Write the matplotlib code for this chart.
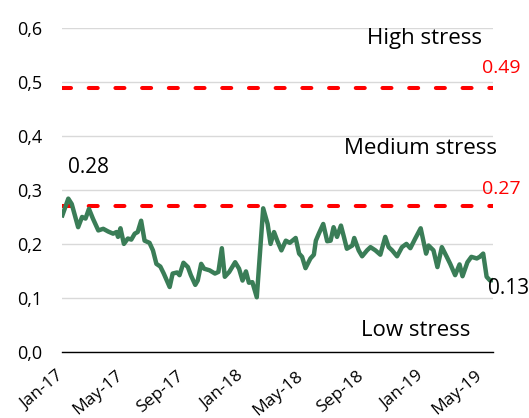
#!/usr/bin/env python3
# stress index chart, weekly values Jan-17 .. May-19

import numpy as np
import matplotlib
matplotlib.use('Agg')
import matplotlib.pyplot as plt
import matplotlib.dates as mdates

# dates and index values
dates = [
    '2017-01-02', '2017-01-14', '2017-01-21', '2017-02-03', '2017-02-11', '2017-02-18',
    '2017-02-25', '2017-03-05', '2017-03-16', '2017-03-26', '2017-04-05', '2017-04-15',
    '2017-04-22', '2017-04-25', '2017-04-30', '2017-05-07', '2017-05-15', '2017-05-22',
    '2017-05-29', '2017-06-04', '2017-06-11', '2017-06-18', '2017-06-28', '2017-07-05',
    '2017-07-12', '2017-07-20', '2017-07-27', '2017-08-08', '2017-08-14', '2017-08-23',
    '2017-08-28', '2017-09-05', '2017-09-14', '2017-09-20', '2017-09-29', '2017-10-04',
    '2017-10-11', '2017-10-17', '2017-10-28', '2017-11-08', '2017-11-15', '2017-11-22',
    '2017-11-28', '2017-12-07', '2017-12-19', '2017-12-27', '2018-01-03', '2018-01-10',
    '2018-01-16', '2018-01-23', '2018-02-01', '2018-02-14', '2018-02-23', '2018-03-01',
    '2018-03-08', '2018-03-15', '2018-03-23', '2018-04-01', '2018-04-09', '2018-04-21',
    '2018-04-28', '2018-05-04', '2018-05-11', '2018-05-21', '2018-05-28', '2018-06-01',
    '2018-06-07', '2018-06-16', '2018-06-24', '2018-07-01', '2018-07-07', '2018-07-14',
    '2018-07-22', '2018-07-28', '2018-08-03', '2018-08-14', '2018-08-18', '2018-08-27',
    '2018-09-03', '2018-09-13', '2018-09-20', '2018-09-30', '2018-10-10', '2018-10-20',
    '2018-10-27', '2018-11-03', '2018-11-13', '2018-11-23', '2018-12-02', '2018-12-10',
    '2018-12-20', '2018-12-31', '2019-01-11', '2019-01-16', '2019-01-26', '2019-02-03',
    '2019-02-12', '2019-02-22', '2019-03-01', '2019-03-11', '2019-03-20', '2019-03-26',
    '2019-04-05', '2019-04-13', '2019-04-24', '2019-04-30', '2019-05-07', '2019-05-14',
    '2019-05-21', '2019-05-27',
]
values = [
    0.253, 0.284, 0.274, 0.231, 0.250, 0.247,
    0.265, 0.247, 0.225, 0.228, 0.223, 0.219,
    0.222, 0.213, 0.229, 0.200, 0.210, 0.208,
    0.219, 0.222, 0.243, 0.206, 0.202, 0.188,
    0.163, 0.158, 0.145, 0.120, 0.145, 0.147,
    0.142, 0.165, 0.157, 0.142, 0.124, 0.132,
    0.163, 0.154, 0.151, 0.145, 0.148, 0.192,
    0.139, 0.148, 0.166, 0.154, 0.132, 0.149,
    0.128, 0.129, 0.101, 0.266, 0.237, 0.200,
    0.222, 0.205, 0.188, 0.206, 0.202, 0.211,
    0.182, 0.176, 0.155, 0.173, 0.180, 0.206,
    0.219, 0.237, 0.205, 0.206, 0.231, 0.213,
    0.234, 0.213, 0.191, 0.197, 0.211, 0.188,
    0.177, 0.188, 0.194, 0.188, 0.180, 0.213,
    0.194, 0.188, 0.177, 0.194, 0.200, 0.192,
    0.210, 0.229, 0.182, 0.197, 0.188, 0.157,
    0.194, 0.176, 0.163, 0.142, 0.162, 0.140,
    0.166, 0.176, 0.173, 0.176, 0.182, 0.139,
    0.132, 0.133,
]
thresholds = [0.49, 0.27]
threshold_labels = ['0.49', '0.27']
zone_labels = ['High stress', 'Medium stress', 'Low stress']
y_ticks = [0.0, 0.1, 0.2, 0.3, 0.4, 0.5, 0.6]
y_tick_labels = ['0,0', '0,1', '0,2', '0,3', '0,4', '0,5', '0,6']
x_tick_dates = ['2017-01-01', '2017-05-01', '2017-09-01', '2018-01-01',
                '2018-05-01', '2018-09-01', '2019-01-01', '2019-05-01']

plt.rcParams['font.family'] = ['Open Sans', 'DejaVu Sans']

x = np.array(dates, dtype='datetime64[D]')
x_start = np.datetime64('2017-01-01')
x_end = x[-1]

fig = plt.figure(figsize=(5.29, 4.18), dpi=100)
ax = fig.add_axes([0.117, 0.1586, 0.815, 0.7737])

ax.set_ylim(0, 0.6)
ax.set_xlim(x_start, x_end)
ax.set_yticks(y_ticks)
ax.set_yticklabels(y_tick_labels, fontsize=13)
ax.yaxis.grid(True, color='#d9d9d9', linewidth=1.0)
ax.set_axisbelow(True)
for s in ['left', 'right', 'top']:
    ax.spines[s].set_visible(False)
ax.spines['bottom'].set_color('black')
ax.spines['bottom'].set_linewidth(1.0)
ax.tick_params(axis='both', length=0)
ax.tick_params(axis='y', pad=14)

xt = np.array(x_tick_dates, dtype='datetime64[D]')
ax.set_xticks(xt)
ax.xaxis.set_major_formatter(mdates.DateFormatter('%b-%y'))
plt.setp(ax.get_xticklabels(), rotation=40, ha='right', va='center',
         rotation_mode='anchor', fontsize=12.5)
ax.tick_params(axis='x', pad=16)

# threshold lines
for t in thresholds:
    ax.plot([x_start, x_end], [t, t], color='#ff0000', linewidth=2.9,
            dashes=(2.24, 4.39), dash_capstyle='round', zorder=2)

ax.plot(x, values, color='#3a7d57', linewidth=3.2, zorder=3,
        solid_joinstyle='round')

# labels
yt = ax.get_yaxis_transform()
ax.text(0.974, 0.581, zone_labels[0], transform=yt,
        ha='right', va='center', fontsize=16)
ax.text(1.009, 0.377, zone_labels[1], transform=yt,
        ha='right', va='center', fontsize=16)
ax.text(0.821, 0.040, zone_labels[2], transform=yt,
        ha='center', va='center', fontsize=16)
ax.text(1.063, 0.527, threshold_labels[0], color='#ff0000',
        transform=yt, ha='right', va='center', fontsize=14)
ax.text(1.063, 0.301, threshold_labels[1], color='#ff0000',
        transform=yt, ha='right', va='center', fontsize=14)

i_max = int(np.argmax(values))
ax.annotate('{:.2f}'.format(values[i_max]), (x[i_max], 0.341),
            ha='left', va='center', fontsize=15)
ax.annotate('{:.2f}'.format(values[-1]), (x[-1], 0.118),
            xytext=(11, 0), textcoords='offset points', ha='center', va='center',
            fontsize=15)

fig.savefig('out.png', dpi=100)
